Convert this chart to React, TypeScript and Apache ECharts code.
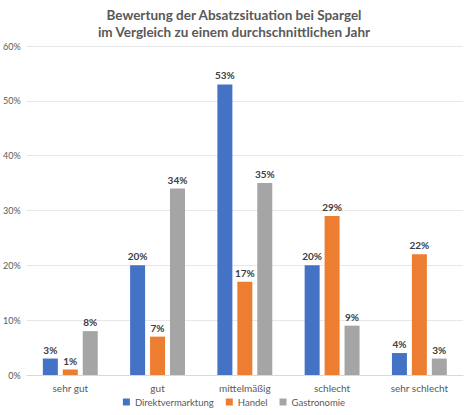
import React, { useEffect, useRef } from "react";
import * as echarts from "echarts";

const categories = ["sehr gut", "gut", "mittelmäßig", "schlecht", "sehr schlecht"];
const direktvermarktung = [3, 20, 53, 20, 4];
const handel = [1, 7, 17, 29, 22];
const gastronomie = [8, 34, 35, 9, 3];
const seriesNames = ["Direktvermarktung", "Handel", "Gastronomie"];
const colors = ["#4472C4", "#ED7D31", "#A5A5A5"];

export default function App() {
  const ref = useRef<HTMLDivElement>(null);
  useEffect(() => {
    const chart = echarts.init(ref.current!, null, { renderer: "svg" });
    const font = "Lato, 'Open Sans', sans-serif";
    const mk = (name: string, data: number[], color: string) => ({
      name,
      type: "bar",
      data,
      barWidth: 15,
      barGap: "33%",
      itemStyle: { color },
      label: {
        show: true,
        position: "top",
        formatter: "{c}%",
        color: "#404040",
        fontSize: 10,
        fontWeight: "bold",
        fontFamily: font,
        distance: 4,
      },
    });
    chart.setOption({
      animation: false,
      textStyle: { fontFamily: font },
      title: {
        text: "Bewertung der Absatzsituation bei Spargel\nim Vergleich zu einem durchschnittlichen Jahr",
        left: "center",
        top: 1,
        textStyle: { fontSize: 13.5, fontWeight: "bold", color: "#595959", lineHeight: 17, fontFamily: font },
      },
      legend: {
        bottom: 3,
        left: "center",
        itemWidth: 7,
        itemHeight: 7,
        itemGap: 12,
        icon: "rect",
        textStyle: { fontSize: 9.5, color: "#595959", fontFamily: font },
        data: seriesNames,
      },
      grid: { left: 26, right: 5, top: 46, bottom: 40 },
      xAxis: {
        type: "category",
        data: categories,
        axisLine: { lineStyle: { color: "#D9D9D9" } },
        axisTick: { show: false },
        axisLabel: { color: "#595959", fontSize: 10, margin: 8, fontFamily: font },
      },
      yAxis: {
        type: "value",
        min: 0,
        max: 60,
        interval: 10,
        axisLabel: { formatter: "{value}%", color: "#595959", fontSize: 9, margin: 6, fontFamily: font },
        splitLine: { lineStyle: { color: "#E7E7E7" } },
        axisLine: { show: false },
        axisTick: { show: false },
      },
      series: [
        mk(seriesNames[0], direktvermarktung, colors[0]),
        mk(seriesNames[1], handel, colors[1]),
        mk(seriesNames[2], gastronomie, colors[2]),
      ],
    });
    return () => chart.dispose();
  }, []);
  return <div ref={ref} style={{ width: 468, height: 415, position: "absolute", left: 0, top: 0, background: "#fff" }} />;
}
